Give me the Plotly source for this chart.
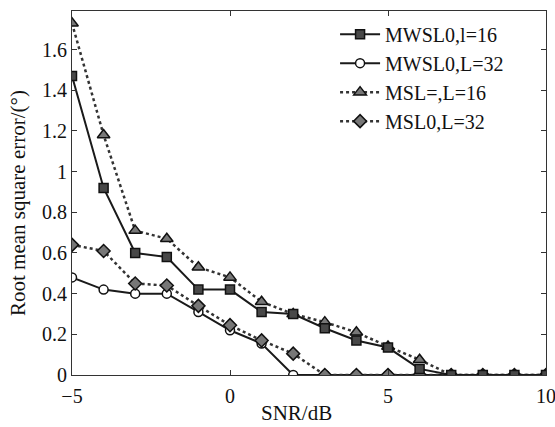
import plotly.graph_objects as go

snr = [-5, -4, -3, -2, -1, 0, 1, 2, 3, 4, 5, 6, 7, 8, 9, 10]
mwsl_16 = [1.47, 0.92, 0.60, 0.58, 0.42, 0.42, 0.31, 0.30, 0.23, 0.17, 0.135, 0.03, 0, 0, 0, 0]
mwsl_32 = [0.48, 0.42, 0.40, 0.40, 0.31, 0.22, 0.155, 0, 0, 0, 0, 0, 0, 0, 0, 0]
msl_16 = [1.73, 1.18, 0.71, 0.67, 0.53, 0.48, 0.36, 0.30, 0.26, 0.21, 0.14, 0.075, 0, 0, 0, 0]
msl_32 = [0.64, 0.61, 0.45, 0.44, 0.34, 0.245, 0.17, 0.105, 0, 0, 0, 0, 0, 0, 0, 0]
names = ["MWSL0,l=16", "MWSL0,L=32", "MSL=,L=16", "MSL0,L=32"]
x_ticks = [-5, 0, 5, 10]
y_ticks = [0, 0.2, 0.4, 0.6, 0.8, 1, 1.2, 1.4, 1.6]
y_ticktext = ["0", "0.2", "0.4", "0.6", "0.8", "1", "1.2", "1.4", "1.6"]

FONT = "Liberation Serif"
fig = go.Figure()
fig.add_trace(go.Scatter(x=snr, y=mwsl_32, name=names[1], mode="lines+markers", legendrank=2,
                         line=dict(color="#1a1a1a", width=2, dash="solid"),
                         marker=dict(symbol="circle", size=9, color="white", line=dict(color="#111", width=1.5))))
fig.add_trace(go.Scatter(x=snr, y=msl_32, name=names[3], mode="lines+markers", legendrank=4,
                         line=dict(color="#333", width=2.5, dash="dot"),
                         marker=dict(symbol="diamond", size=10, color="#777777", line=dict(color="#111", width=1.5))))
fig.add_trace(go.Scatter(x=snr, y=msl_16, name=names[2], mode="lines+markers", legendrank=3,
                         line=dict(color="#333", width=2.5, dash="dot"),
                         marker=dict(symbol="triangle-up", size=11, color="#777777", line=dict(color="#111", width=1.5))))
fig.add_trace(go.Scatter(x=snr, y=mwsl_16, name=names[0], mode="lines+markers", legendrank=1,
                         line=dict(color="#1a1a1a", width=2, dash="solid"),
                         marker=dict(symbol="square", size=9, color="#484848", line=dict(color="#111", width=1.5))))

axis_common = dict(showgrid=False, zeroline=False, showline=True, linecolor="#333", linewidth=1,
                   mirror="ticks", ticks="inside", ticklen=5, tickcolor="#333", automargin=False,
                   ticklabeloverflow="allow",
                   tickfont=dict(family=FONT, size=20, color="#111"))
fig.update_xaxes(range=[-5, 10], tickvals=x_ticks, ticklabelstandoff=3, **axis_common)
fig.update_yaxes(range=[0, 1.79], tickvals=y_ticks, ticktext=y_ticktext, **axis_common)

fig.add_annotation(text="SNR/dB", xref="paper", yref="paper", x=0.473, y=-0.104,
                   xanchor="center", yanchor="middle", showarrow=False,
                   font=dict(family=FONT, size=21, color="#111"))
fig.add_annotation(text="Root mean square error/(°)", xref="paper", yref="paper", x=-0.114, y=0.4725,
                   xanchor="center", yanchor="middle", showarrow=False, textangle=-90,
                   font=dict(family=FONT, size=21, color="#111"))

fig.update_layout(
    width=555, height=427,
    margin=dict(l=72, r=9, t=11, b=52),
    plot_bgcolor="white", paper_bgcolor="white",
    font=dict(family=FONT, color="#111"),
    legend=dict(x=0.555, y=0.99, xanchor="left", yanchor="top", bgcolor="rgba(0,0,0,0)",
                font=dict(family=FONT, size=20, color="#111"), tracegroupgap=0, itemwidth=40,
                traceorder="normal"),
)
fig.write_html("out.html", config={"displayModeBar": False},
               post_script="document.body.style.margin='0px';")
